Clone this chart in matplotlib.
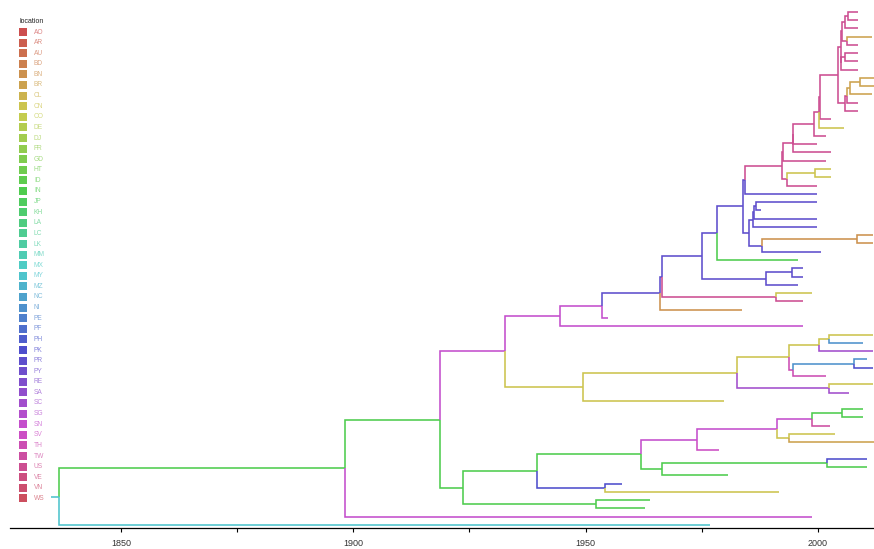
import matplotlib
matplotlib.use("Agg")
import matplotlib.pyplot as plt
from matplotlib.colors import hsv_to_rgb
from matplotlib.patches import Rectangle

plt.rcParams["font.family"] = ["Liberation Sans", "DejaVu Sans"]

# Sampling locations (legend order)
locations = ["AO", "AR", "AU", "BD", "BN", "BR", "CL", "CN", "CO", "DE", "DJ",
             "FR", "GD", "HT", "ID", "IN", "JP", "KH", "LA", "LC", "LK", "MM",
             "MX", "MY", "MZ", "NC", "NI", "PE", "PF", "PH", "PK", "PR", "PY",
             "RE", "SA", "SC", "SG", "SN", "SV", "TH", "TW", "US", "VE", "VN", "WS"]

# Tips, top to bottom: sampling date, location, parent node
tip_date = [2008.6, 2008.6, 2008.6, 2011.6, 2008.6, 2008.6, 2008.6, 2008.6,
            2012.1, 2012.1, 2011.6, 2008.6, 2008.6, 2002.8, 2005.6, 2001.7,
            1999.8, 2002.8, 2001.7, 2002.8, 2002.8, 1999.8, 1999.8, 1999.8,
            1987.8, 1999.8, 1999.8, 2011.9, 2011.9, 2000.7, 1995.7, 1996.8,
            1996.8, 1995.7, 1998.7, 1996.8, 1983.7, 1954.8, 1996.8, 2011.9,
            2009.7, 2011.9, 2010.6, 2011.9, 2001.7, 2011.9, 2006.7, 1979.8,
            2009.7, 2009.7, 2002.6, 2003.7, 2012.1, 1978.7, 2010.6, 2010.6,
            1980.7, 1957.8, 1991.6, 1963.9, 1962.8, 1998.7, 1976.8]
tip_loc = ["US", "US", "US", "BR", "US", "US", "US", "US",
           "BR", "BR", "BR", "US", "US", "US", "CN", "US",
           "US", "US", "US", "CN", "CN", "US", "PR", "PR",
           "PR", "PR", "PR", "BN", "BN", "PR", "IN", "PR",
           "PR", "PR", "CN", "US", "BN", "SN", "SN", "CN",
           "NI", "SC", "NI", "PK", "TH", "CN", "SC", "CN",
           "IN", "IN", "TW", "CN", "BR", "SV", "PK", "IN",
           "IN", "PK", "CN", "IN", "IN", "SN", "MY"]
tip_parent = [23, 23, 22, 24, 24, 26, 26, 25, 30, 30, 29, 28, 27, 18, 17, 16,
              15, 14, 13, 32, 32, 31, 11, 36, 36, 35, 34, 38, 38, 37, 9, 40,
              40, 39, 41, 41, 6, 5, 4, 46, 46, 45, 48, 48, 47, 49, 49, 42,
              56, 56, 55, 57, 57, 53, 59, 59, 58, 60, 60, 61, 61, 1, 0]

# Internal nodes: inferred date, inferred location, parent node (-1 = root)
node_date = [1836.7, 1898.2, 1918.7, 1932.7, 1944.5, 1953.6, 1966.0, 1966.4,
             1975.0, 1978.3, 1983.8, 1984.3, 1992.2, 1992.6, 1994.6, 1994.7,
             1999.2, 2000.2, 2000.5, 2004.3, 2004.9, 2005.3, 2005.8, 2006.5,
             2006.3, 2005.1, 2005.8, 2005.8, 2006.2, 2006.9, 2009.1, 1993.4,
             1999.4, 1985.2, 1986.0, 1986.3, 1986.7, 1987.9, 2008.4, 1988.8,
             1994.5, 1991.1, 1949.5, 1982.7, 1993.8, 2000.2, 2002.5, 1994.7,
             2007.8, 2002.5, 1923.7, 1939.5, 1961.9, 1974.0, 1991.3, 1998.7,
             2005.3, 1993.8, 1966.4, 2001.9, 1954.2, 1952.2]
node_loc = ["MY", "IN", "IN", "SN", "SN", "SN", "PR", "PR",
            "PR", "PR", "PR", "PR", "US", "US", "US", "US",
            "US", "US", "US", "US", "US", "US", "US", "US",
            "US", "US", "US", "US", "US", "BR", "BR", "US",
            "CN", "PR", "PR", "PR", "PR", "PR", "BN", "PR",
            "PR", "US", "CN", "CN", "CN", "CN", "CN", "TH",
            "NI", "SC", "IN", "IN", "IN", "SN", "SN", "SN",
            "IN", "CN", "IN", "IN", "PK", "IN"]
node_parent = [-1, 0, 1, 2, 3, 4, 5, 6, 7, 8, 9, 10, 11, 12, 13, 14,
               15, 16, 17, 18, 19, 20, 21, 22, 21, 20, 25, 19, 27, 28, 29, 12,
               31, 10, 33, 34, 35, 33, 37, 8, 39, 7, 3, 42, 43, 44, 45, 44,
               47, 43, 2, 50, 51, 52, 53, 54, 55, 54, 52, 58, 51, 50]

root_edge_start = 1834.9

# Rainbow palette over the locations
n_loc = len(locations)
palette = {loc: hsv_to_rgb((i / n_loc, 0.62, 0.80)) for i, loc in enumerate(locations)}

# Rectangular tree layout: tips on integer rows, nodes at mean of children
n_tips = len(tip_date)
tip_y = [n_tips - i for i in range(n_tips)]
children = {k: [] for k in range(len(node_date))}
for i, p in enumerate(tip_parent):
    children[p].append(("tip", i))
for k, p in enumerate(node_parent):
    if p >= 0:
        children[p].append(("node", k))

node_y = {}


def place(k):
    ys = []
    for kind, idx in children[k]:
        ys.append(tip_y[idx] if kind == "tip" else place(idx))
    node_y[k] = sum(ys) / len(ys)
    return node_y[k]


place(0)

fig = plt.figure(figsize=(8.74, 5.49), dpi=100)
ax = fig.add_axes([10 / 874, 21 / 549, 864 / 874, 528 / 549])

lw = 1.15


def draw_edge(px, py, cx, cy, color):
    ax.plot([px, px, cx], [py, cy, cy], color=color, lw=lw,
            solid_joinstyle="miter", solid_capstyle="butt", zorder=2)


for k, p in enumerate(node_parent):
    if p >= 0:
        draw_edge(node_date[p], node_y[p], node_date[k], node_y[k], palette[node_loc[k]])
for i, p in enumerate(tip_parent):
    draw_edge(node_date[p], node_y[p], tip_date[i], tip_y[i], palette[tip_loc[i]])

# root edge
ax.plot([root_edge_start, node_date[0]], [node_y[0], node_y[0]],
        color=palette[node_loc[0]], lw=lw, solid_capstyle="butt")

ax.set_xlim(1826.1, 2012.1)
ax.set_ylim(0.638, 64.41)

for side in ("left", "right", "top"):
    ax.spines[side].set_visible(False)
ax.spines["bottom"].set_linewidth(0.9)
ax.spines["bottom"].set_color("black")
ax.set_yticks([])
ax.set_xticks([1850, 1900, 1950, 2000])
ax.set_xticks([1875, 1925, 1975], minor=True)
ax.tick_params(axis="x", which="both", length=3, width=0.8, color="black",
               labelsize=6.5, labelcolor="#333333", pad=5)
ax.patch.set_alpha(0)

# Legend
fig.text(20 / 874, 1 - 21.5 / 549, "location", fontsize=5.0, color="#222222",
         va="center", ha="left")
row0 = 32.0
step = 10.6
for i, loc in enumerate(locations):
    yc = row0 + i * step
    fig.patches.append(Rectangle((18.5 / 874, 1 - (yc + 4) / 549), 8 / 874, 8 / 549,
                                 transform=fig.transFigure, facecolor=palette[loc],
                                 edgecolor="none"))
    fig.text(34 / 874, 1 - yc / 549, loc, fontsize=4.8, color=palette[loc],
             alpha=0.7, va="center", ha="left")

fig.savefig("out.png", dpi=100)
